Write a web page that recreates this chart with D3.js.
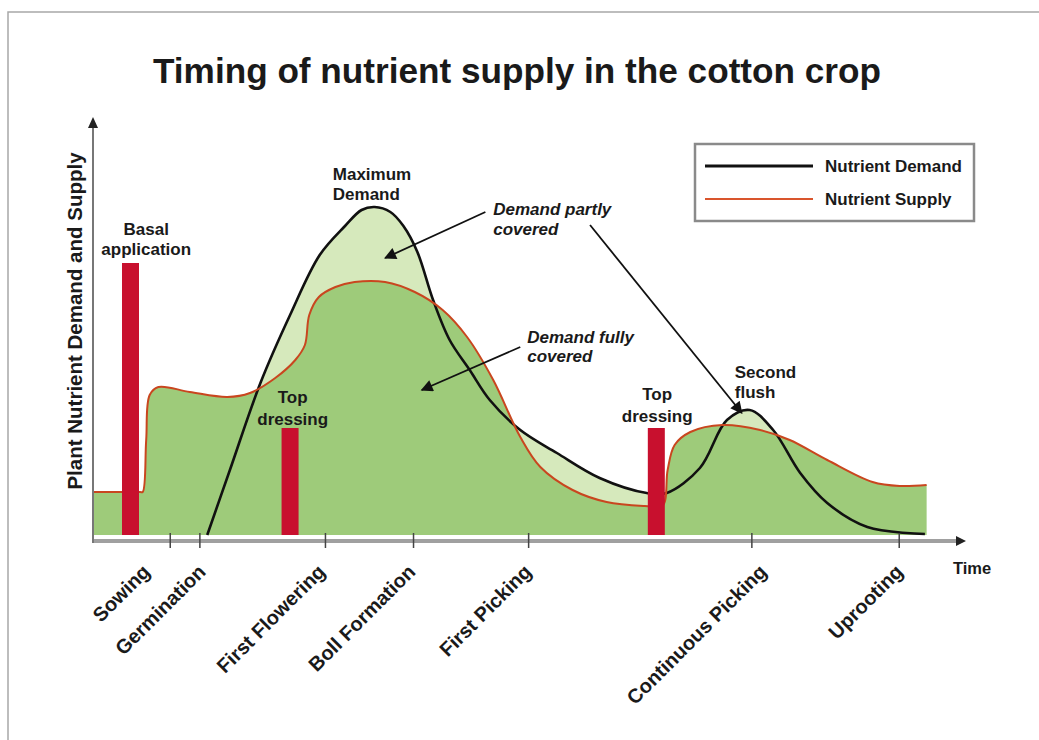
<!DOCTYPE html>
<html>
<head>
<meta charset="utf-8">
<script src="https://cdn.jsdelivr.net/npm/d3@7"></script>
<style>
  body { margin: 0; background: white; }
  text { font-family: "Liberation Sans", Arial, sans-serif; font-weight: bold; fill: #1a1a1a; }
</style>
</head>
<body>
<div class="canvas"></div>
<script>
var width = 1039;
var height = 740;

// time is in arbitrary units 0..100, level in arbitrary units 0..100
const stageNames = ["Sowing", "Germination", "First Flowering", "Boll Formation", "First Picking", "Continuous Picking", "Uprooting"];
const stageTime = [8.8, 12.2, 26.6, 36.7, 49.9, 75.5, 92.4];

const supplyTime = [0, 5.4, 5.7, 6.1, 6.5, 7.5, 11.1, 15.4, 18.0, 20.9, 23.2, 24.3, 24.8, 25.9, 27.8, 30.0, 33.5, 36.9, 40.1, 42.9, 45.9, 49.0, 51.3, 55.0, 58.9, 63.3, 65.3, 65.9, 66.7, 68.5, 72.2, 76.5, 79.9, 84.2, 89.4, 92.5, 95.6];
const supplyLevel = [10.75, 10.75, 10.75, 23.75, 35, 37, 35.75, 34.5, 35.5, 39.25, 43.75, 47.5, 55, 59.5, 62, 63.25, 63.25, 60.75, 56.25, 49.5, 38.75, 24.5, 17, 11.25, 8.25, 7.25, 7.25, 16.25, 22.5, 25.75, 27.5, 26.25, 23.75, 18.75, 13.25, 12.25, 12.5];

const demandTime = [13.1, 15.7, 19.2, 22.6, 26.0, 28.9, 30.8, 32.3, 34.1, 35.6, 37.2, 39.0, 40.9, 43.2, 45.5, 49.0, 53.2, 58.1, 63.5, 65.8, 69.6, 72.7, 75.3, 78.0, 81.1, 84.2, 88.8, 95.4];
const demandLevel = [0, 16.25, 38, 55, 70, 77.25, 81.25, 82, 80.75, 77.25, 70.75, 58.75, 48.75, 41.25, 33.75, 26.25, 20.5, 14.25, 10.5, 10.5, 16.75, 28.75, 31.25, 26.25, 15.5, 8, 2, 0.25];

const applicationNames = ["Basal application", "Top dressing", "Top dressing"];
const applicationTime = [4.3, 22.6, 64.6];
const applicationAmount = [68, 26.75, 26.75];

const legendNames = ["Nutrient Demand", "Nutrient Supply"];

var x = d3.scaleLinear().domain([0, 100]).range([93, 965]);
var y = d3.scaleLinear().domain([0, 100]).range([535, 135]);

var svg = d3.select(".canvas").append("svg")
    .attr("width", width)
    .attr("height", height)
    .style("background", "white");

svg.append("defs").append("marker")
    .attr("id", "bighead")
    .attr("viewBox", "0 0 10 10")
    .attr("refX", 9).attr("refY", 5)
    .attr("markerWidth", 14).attr("markerHeight", 12)
    .attr("markerUnits", "userSpaceOnUse")
    .attr("orient", "auto")
    .append("path").attr("d", "M0,0L10,5L0,10z").attr("fill", "#111");

// frame
svg.append("rect").attr("x", 8).attr("y", 12).attr("width", 1100).attr("height", 800)
    .attr("fill", "none").attr("stroke", "#a8a8a8").attr("stroke-width", 1.5);

svg.append("text")
    .attr("x", 517).attr("y", 83)
    .attr("text-anchor", "middle")
    .style("font-size", "35px")
    .attr("textLength", 728)
    .attr("lengthAdjust", "spacingAndGlyphs")
    .text("Timing of nutrient supply in the cotton crop");

var supply = supplyTime.map((t, i) => ({ t: t, v: supplyLevel[i] }));
var demand = demandTime.map((t, i) => ({ t: t, v: demandLevel[i] }));

var curve = d3.curveCatmullRom.alpha(0.5);
var area = d3.area().x(d => x(d.t)).y0(y(0)).y1(d => y(d.v)).curve(curve);
var line = d3.line().x(d => x(d.t)).y(d => y(d.v)).curve(curve);

svg.append("path").attr("d", area(demand)).attr("fill", "#d6e9bc");
svg.append("path").attr("d", area(supply)).attr("fill", "#9ecb7a");

svg.append("path").attr("d", line(demand)).attr("fill", "none").attr("stroke", "#111").attr("stroke-width", 2.6);
svg.append("path").attr("d", line(supply)).attr("fill", "none").attr("stroke", "#c9461f").attr("stroke-width", 2);

// fertiliser applications
svg.selectAll("rect.app")
    .data(applicationTime)
    .enter().append("rect")
    .attr("class", "app")
    .attr("x", d => x(d) - 8.5)
    .attr("width", 17)
    .attr("y", (d, i) => y(applicationAmount[i]))
    .attr("height", (d, i) => y(0) - y(applicationAmount[i]))
    .attr("fill", "#c8102e");

// axes
svg.append("line").attr("x1", 93).attr("x2", 958).attr("y1", 541).attr("y2", 541)
    .attr("stroke", "#a0a0a0").attr("stroke-width", 4);
svg.append("path").attr("d", "M956,536L966,541L956,546z").attr("fill", "#222");
svg.append("line").attr("x1", 93).attr("x2", 93).attr("y1", 543).attr("y2", 126)
    .attr("stroke", "#777").attr("stroke-width", 2);
svg.append("path").attr("d", "M88,128L93,117L98,128z").attr("fill", "#222");

var xAxis = svg.append("g")
    .attr("transform", "translate(0,541)")
    .call(d3.axisBottom(x).tickValues(stageTime).tickFormat((d, i) => stageNames[i]).tickSize(7));
xAxis.select(".domain").remove();
xAxis.selectAll(".tick line").attr("y1", -8).attr("stroke", "#444").attr("stroke-width", 1.5);

const labelShift = [-19, 7, 1, 3, 4, 16, 5];
xAxis.selectAll(".tick text")
    .attr("transform", (d, i) => "translate(" + labelShift[i] + ",32) rotate(-45)")
    .attr("x", 0).attr("y", 0).attr("dy", 0)
    .attr("text-anchor", "end")
    .style("font-size", "20px")
    .style("font-family", "'Liberation Sans', Arial, sans-serif")
    .style("font-weight", "bold")
    .attr("fill", "#1a1a1a");

svg.append("text")
    .attr("transform", "translate(82,321) rotate(-90)")
    .attr("text-anchor", "middle")
    .style("font-size", "20.5px")
    .text("Plant Nutrient Demand and Supply");

svg.append("text").attr("x", 953).attr("y", 574).style("font-size", "16.5px").text("Time");

// annotations
function note(t, v, lines, anchor, italic, gap) {
    var txt = svg.append("text")
        .attr("x", x(t)).attr("y", y(v))
        .attr("text-anchor", anchor)
        .style("font-size", "17px")
        .style("font-style", italic ? "italic" : "normal");
    lines.forEach((s, i) => {
        txt.append("tspan").attr("x", x(t)).attr("dy", i === 0 ? 0 : gap).text(s);
    });
}
note(6.1, 75, ["Basal", "application"], "middle", false, 20);
note(22.9, 33, ["Top", "dressing"], "middle", false, 22);
note(64.7, 33.75, ["Top", "dressing"], "middle", false, 22);
note(27.5, 88.75, ["Maximum", "Demand"], "start", false, 20);
note(45.9, 80, ["Demand partly", "covered"], "start", true, 20);
note(49.8, 48, ["Demand fully", "covered"], "start", true, 19);
note(73.6, 39.25, ["Second", "flush"], "start", false, 20);

function arrow(t1, v1, t2, v2) {
    svg.append("line")
        .attr("x1", x(t1)).attr("y1", y(v1))
        .attr("x2", x(t2)).attr("y2", y(v2))
        .attr("stroke", "#111").attr("stroke-width", 1.8)
        .attr("marker-end", "url(#bighead)");
}
arrow(45.0, 80.75, 33.5, 69.25);
arrow(49.0, 47, 37.7, 36.25);
arrow(57.0, 77.5, 74.4, 30.5);

// legend
var legend = svg.append("g");
legend.append("rect").attr("x", 695).attr("y", 144).attr("width", 279).attr("height", 77)
    .attr("fill", "white").attr("stroke", "#8a8a8a").attr("stroke-width", 2.5);
legend.selectAll("line.key")
    .data(legendNames)
    .enter().append("line")
    .attr("class", "key")
    .attr("x1", 705).attr("x2", 813)
    .attr("y1", (d, i) => 166 + i * 33).attr("y2", (d, i) => 166 + i * 33)
    .attr("stroke", (d, i) => i === 0 ? "#111" : "#d9552d")
    .attr("stroke-width", (d, i) => i === 0 ? 3 : 2);
legend.selectAll("text.key")
    .data(legendNames)
    .enter().append("text")
    .attr("class", "key")
    .attr("x", 825).attr("y", (d, i) => 172 + i * 33)
    .style("font-size", "17px")
    .text(d => d);
</script>
</body>
</html>
